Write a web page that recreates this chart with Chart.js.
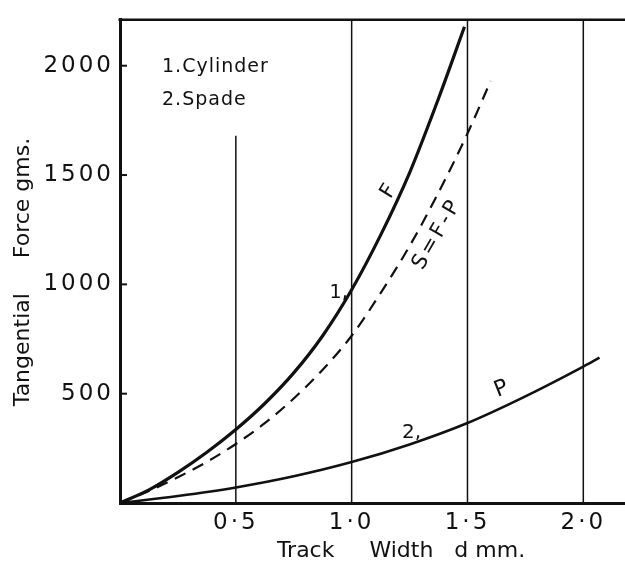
<!DOCTYPE html>
<html>
<head>
<meta charset="utf-8">
<title>Tangential force vs track width</title>
<script src="https://cdn.jsdelivr.net/npm/chart.js@4/dist/chart.umd.min.js"></script>
<style>
  html, body { margin: 0; padding: 0; background: #fff; }
  #wrap { width: 625px; height: 561px; }
</style>
</head>
<body>
<div id="wrap"><canvas id="forceChart" width="625" height="561"></canvas></div>
<script>
// Axes
const xTicks = [0.5, 1.0, 1.5, 2.0];
const yTicks = [500, 1000, 1500, 2000];
const xMax = 2.18;
const yMax = 2210;

// vertical guide lines (the one at 0.5 stops below the key)
const guideX = [0.5, 1.0, 1.5, 2.0];
const guideTop = [1680, yMax, yMax, yMax];

// Curve 1 - cylinder, total force F
const dF = [0, 0.125, 0.25, 0.375, 0.5, 0.625, 0.75, 0.875, 1.0, 1.125, 1.25, 1.375, 1.487];
const forceF = [0, 60, 140, 232, 336, 455, 595, 765, 975, 1225, 1510, 1850, 2178];

// S = F - P (dashed)
const dS = [0, 0.125, 0.25, 0.375, 0.5, 0.625, 0.75, 0.875, 1.0, 1.125, 1.25, 1.375, 1.5, 1.6];
const forceS = [0, 55, 118, 188, 270, 365, 478, 610, 765, 960, 1175, 1420, 1690, 1930];

// Curve 2 - spade, P
const dP = [0, 0.25, 0.5, 0.75, 1.0, 1.25, 1.5, 1.75, 2.0, 2.07];
const forceP = [0, 32, 71, 122, 187, 268, 366, 488, 624, 665];

const FONT = "'DejaVu Sans', sans-serif";
const INK = '#111';

function pts(xs, ys) {
    return xs.map((x, i) => ({ x: x, y: ys[i] }));
}

// labels written beside the curves
const curveLabels = [
    { text: 'F', x: 1.16, y: 1425, rot: -58, size: 21, spacing: 0 },
    { text: 'S=F-P', x: 1.37, y: 1230, rot: -60, size: 21, spacing: 3 },
    { text: '1,', x: 0.944, y: 959, rot: 0, size: 19, spacing: 0 },
    { text: '2,', x: 1.259, y: 321, rot: 0, size: 20, spacing: 0 },
    { text: 'P', x: 1.647, y: 520, rot: -22, size: 22, spacing: 0 }
];

// key in the upper left corner
const keyLines = ['1.Cylinder', '2.Spade'];

// wide letter spacing for the tick numbers
const tickSpacing = {
    id: 'tickSpacing',
    beforeDraw(chart) { chart.ctx.letterSpacing = '3px'; },
    beforeDatasetsDraw(chart) { chart.ctx.letterSpacing = '0px'; }
};

// guide lines, inner tick marks, top frame line
const frame = {
    id: 'frame',
    beforeDatasetsDraw(chart) {
        const ctx = chart.ctx;
        const xs = chart.scales.x, ys = chart.scales.y;
        const area = chart.chartArea;
        ctx.save();
        ctx.strokeStyle = INK;
        ctx.lineWidth = 1.5;
        guideX.forEach((v, i) => {
            const px = xs.getPixelForValue(v);
            ctx.beginPath();
            ctx.moveTo(px, ys.getPixelForValue(guideTop[i]));
            ctx.lineTo(px, area.bottom);
            ctx.stroke();
        });
        ctx.lineWidth = 2;
        yTicks.forEach(v => {
            const py = ys.getPixelForValue(v);
            ctx.beginPath();
            ctx.moveTo(area.left, py);
            ctx.lineTo(area.left + 7, py);
            ctx.stroke();
        });
        ctx.lineWidth = 2.5;
        ctx.beginPath();
        ctx.moveTo(area.left - 1.5, area.top);
        ctx.lineTo(area.right, area.top);
        ctx.stroke();
        ctx.restore();
    },
    afterDatasetsDraw(chart) {
        const ctx = chart.ctx;
        const xs = chart.scales.x, ys = chart.scales.y;
        ctx.save();
        ctx.fillStyle = INK;

        curveLabels.forEach(l => {
            ctx.save();
            ctx.translate(xs.getPixelForValue(l.x), ys.getPixelForValue(l.y));
            ctx.rotate(l.rot * Math.PI / 180);
            ctx.font = l.size + 'px ' + FONT;
            ctx.letterSpacing = l.spacing + 'px';
            ctx.textAlign = 'center';
            ctx.textBaseline = 'middle';
            ctx.fillText(l.text, 0, 0);
            ctx.restore();
        });

        ctx.font = '19px ' + FONT;
        ctx.letterSpacing = '1px';
        ctx.textAlign = 'left';
        ctx.textBaseline = 'alphabetic';
        ctx.fillText(keyLines[0], 162, 72);
        ctx.fillText(keyLines[1], 162, 105);

        // axis titles
        ctx.letterSpacing = '0px';
        ctx.font = '22px ' + FONT;
        ctx.textAlign = 'center';
        ctx.fillText('Track     Width   d mm.', 401, 557);
        ctx.save();
        ctx.translate(29, 272);
        ctx.rotate(-Math.PI / 2);
        ctx.fillText('Tangential     Force gms.', 0, 0);
        ctx.restore();

        ctx.restore();
    }
};

const ctx = document.getElementById('forceChart').getContext('2d');
const chart = new Chart(ctx, {
    type: 'line',
    data: {
        datasets: [
            {
                label: 'F',
                data: pts(dF, forceF),
                borderColor: INK,
                borderWidth: 3.2,
                pointRadius: 0,
                cubicInterpolationMode: 'monotone',
                fill: false
            },
            {
                label: 'S=F-P',
                data: pts(dS, forceS),
                borderColor: INK,
                borderWidth: 2.2,
                borderDash: [12, 8],
                pointRadius: 0,
                cubicInterpolationMode: 'monotone',
                fill: false
            },
            {
                label: 'P',
                data: pts(dP, forceP),
                borderColor: INK,
                borderWidth: 2.6,
                pointRadius: 0,
                cubicInterpolationMode: 'monotone',
                fill: false
            }
        ]
    },
    options: {
        responsive: false,
        animation: false,
        layout: { padding: { top: 15, right: 0, left: 0, bottom: 0 } },
        plugins: {
            legend: { display: false },
            tooltip: { enabled: false }
        },
        scales: {
            x: {
                type: 'linear',
                min: 0,
                max: xMax,
                afterBuildTicks: s => { s.ticks = xTicks.map(v => ({ value: v })); },
                afterFit: s => { s.height = 58; },
                grid: { display: false, drawTicks: false },
                border: { display: true, color: INK, width: 3 },
                ticks: {
                    color: INK,
                    padding: 6,
                    maxRotation: 0,
                    font: { family: FONT, size: 23 },
                    callback: v => v.toFixed(1).replace('.', '·')
                }
            },
            y: {
                type: 'linear',
                min: 0,
                max: yMax,
                afterBuildTicks: s => { s.ticks = yTicks.map(v => ({ value: v })); },
                afterFit: s => { s.width = 120; },
                grid: { display: false, drawTicks: false },
                border: { display: true, color: INK, width: 3 },
                ticks: {
                    color: INK,
                    padding: 6,
                    font: { family: FONT, size: 23 },
                    callback: v => String(v)
                }
            }
        }
    },
    plugins: [tickSpacing, frame]
});
</script>
</body>
</html>
